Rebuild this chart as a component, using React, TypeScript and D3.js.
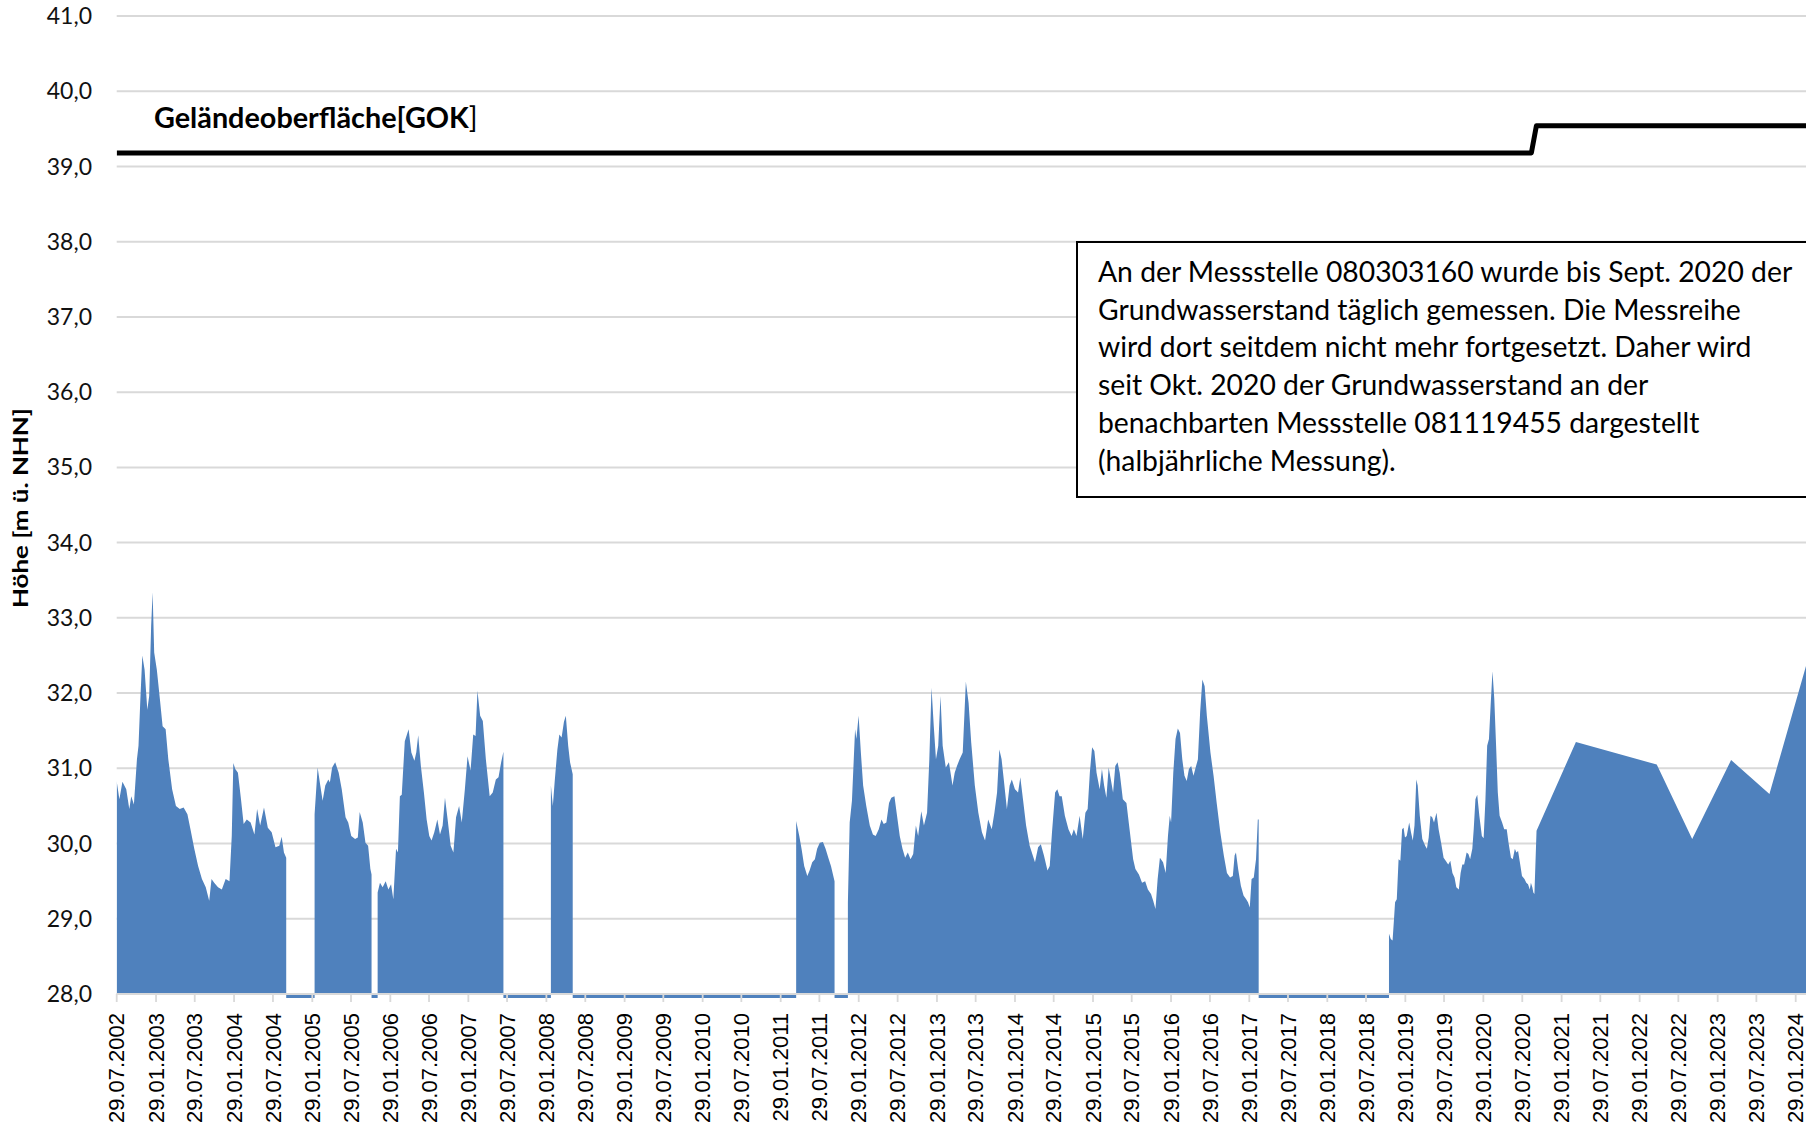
import React from 'react';
import * as d3 from 'd3';

// page size and plot box
const dim = {
  width: 1806,
  height: 1131,
  left: 116.7,
  right: 1806,
  top: 16,
  bottom: 994,
};

const blue = '#4F81BD';
const grid = '#D9D9D9';

// y axis (m ü. NHN)
const yTicks = [28, 29, 30, 31, 32, 33, 34, 35, 36, 37, 38, 39, 40, 41];

// x axis: every 6 months from 29.07.2002 to 29.01.2024
const firstTick = new Date(2002, 6, 29);
const lastTick = new Date(2024, 0, 29);
const tickDates = d3.range(0, 44).map((i) => d3.timeMonth.offset(firstTick, i * 6));

// Geländeoberfläche (decimal year, m)
const gokYears = [2002.572, 2020.69, 2020.754, 2024.5];
const gokValues = [39.18, 39.18, 39.54, 39.54];

// Messstelle 080303160, daily series (decimal year, m) – split where data is missing
const seg2002 = [
  [2002.572, 30.83], [2002.607, 30.59], [2002.646, 30.82], [2002.695, 30.72], [2002.734, 30.46],
  [2002.759, 30.63], [2002.793, 30.52], [2002.832, 31.12], [2002.852, 31.3], [2002.876, 31.92],
  [2002.901, 32.5], [2002.93, 32.31], [2002.965, 31.78], [2002.989, 31.96], [2003.014, 32.89],
  [2003.033, 33.34], [2003.053, 32.54], [2003.087, 32.31], [2003.126, 31.92], [2003.161, 31.56],
  [2003.2, 31.52], [2003.234, 31.12], [2003.283, 30.72], [2003.332, 30.5], [2003.381, 30.46],
  [2003.43, 30.48], [2003.479, 30.39], [2003.518, 30.19], [2003.567, 29.93], [2003.616, 29.7],
  [2003.665, 29.53], [2003.714, 29.42], [2003.758, 29.24], [2003.788, 29.53], [2003.822, 29.48],
  [2003.871, 29.42], [2003.92, 29.39], [2003.969, 29.53], [2004.018, 29.5], [2004.047, 30.1],
  [2004.067, 31.07], [2004.092, 30.99], [2004.126, 30.94], [2004.165, 30.59], [2004.199, 30.26],
  [2004.239, 30.32], [2004.288, 30.28], [2004.337, 30.12], [2004.371, 30.46], [2004.41, 30.24],
  [2004.459, 30.48], [2004.508, 30.21], [2004.557, 30.15], [2004.606, 29.95], [2004.655, 29.97],
  [2004.685, 30.09], [2004.714, 29.88], [2004.743, 29.81],
];

const seg2005 = [
  [2005.106, 30.39], [2005.145, 31.01], [2005.179, 30.77], [2005.209, 30.57], [2005.243, 30.77],
  [2005.282, 30.85], [2005.302, 30.81], [2005.331, 31.01], [2005.37, 31.08], [2005.415, 30.94],
  [2005.454, 30.72], [2005.503, 30.35], [2005.537, 30.28], [2005.576, 30.1], [2005.625, 30.06],
  [2005.66, 30.08], [2005.684, 30.42], [2005.723, 30.28], [2005.758, 30.01], [2005.792, 29.97],
  [2005.821, 29.66], [2005.836, 29.59],
];

const seg2006 = [
  [2005.914, 29.35], [2005.944, 29.48], [2005.978, 29.42], [2006.017, 29.5], [2006.052, 29.39],
  [2006.086, 29.46], [2006.115, 29.26], [2006.15, 29.93], [2006.174, 29.88], [2006.199, 30.63],
  [2006.223, 30.65], [2006.262, 31.36], [2006.311, 31.52], [2006.346, 31.21], [2006.385, 31.1],
  [2006.409, 31.21], [2006.434, 31.44], [2006.468, 31.03], [2006.507, 30.68], [2006.542, 30.32],
  [2006.576, 30.1], [2006.605, 30.04], [2006.64, 30.15], [2006.679, 30.32], [2006.713, 30.12],
  [2006.747, 30.24], [2006.777, 30.61], [2006.811, 30.32], [2006.85, 29.97], [2006.885, 29.88],
  [2006.919, 30.35], [2006.958, 30.5], [2006.992, 30.28], [2007.032, 30.72], [2007.066, 31.16],
  [2007.105, 30.97], [2007.139, 31.45], [2007.169, 31.43], [2007.193, 32.03], [2007.228, 31.7],
  [2007.262, 31.63], [2007.301, 31.12], [2007.35, 30.63], [2007.389, 30.68], [2007.429, 30.85],
  [2007.463, 30.88], [2007.497, 31.08], [2007.526, 31.22],
];

const seg2008 = [
  [2008.134, 30.77], [2008.159, 30.5], [2008.183, 30.83], [2008.217, 31.25], [2008.242, 31.45],
  [2008.271, 31.41], [2008.301, 31.62], [2008.325, 31.7], [2008.355, 31.3], [2008.379, 31.08],
  [2008.413, 30.92],
];

const seg2011 = [
  [2011.275, 30.3], [2011.315, 30.1], [2011.344, 29.93], [2011.378, 29.7], [2011.418, 29.57],
  [2011.447, 29.64], [2011.481, 29.75], [2011.515, 29.79], [2011.544, 29.93], [2011.578, 30.01],
  [2011.618, 30.02], [2011.652, 29.93], [2011.687, 29.81], [2011.721, 29.7], [2011.767, 29.5],
];

const seg2012 = [
  [2011.938, 29.22], [2011.961, 30.28], [2011.99, 30.57], [2012.03, 31.52], [2012.047, 31.39],
  [2012.075, 31.7], [2012.104, 31.21], [2012.133, 30.77], [2012.173, 30.5], [2012.218, 30.24],
  [2012.258, 30.12], [2012.293, 30.1], [2012.333, 30.19], [2012.367, 30.32], [2012.396, 30.26],
  [2012.43, 30.28], [2012.464, 30.54], [2012.493, 30.61], [2012.533, 30.63], [2012.561, 30.41],
  [2012.601, 30.1], [2012.636, 29.93], [2012.67, 29.81], [2012.704, 29.88], [2012.739, 29.79],
  [2012.773, 29.86], [2012.807, 30.24], [2012.836, 30.1], [2012.876, 30.43], [2012.91, 30.24],
  [2012.95, 30.41], [2012.979, 31.12], [2013.007, 32.07], [2013.036, 31.56], [2013.064, 31.12],
  [2013.093, 31.3], [2013.122, 31.96], [2013.15, 31.3], [2013.19, 31.01], [2013.23, 31.08],
  [2013.276, 30.77], [2013.304, 30.94], [2013.333, 31.03], [2013.367, 31.12], [2013.407, 31.21],
  [2013.447, 32.15], [2013.482, 31.87], [2013.516, 31.34], [2013.562, 30.77], [2013.607, 30.41],
  [2013.653, 30.15], [2013.693, 30.04], [2013.733, 30.32], [2013.779, 30.19], [2013.813, 30.41],
  [2013.847, 30.68], [2013.876, 31.25], [2013.905, 31.12], [2013.933, 30.85], [2013.973, 30.46],
  [2014.008, 30.77], [2014.036, 30.85], [2014.076, 30.72], [2014.116, 30.68], [2014.145, 30.88],
  [2014.179, 30.59], [2014.219, 30.24], [2014.265, 29.97], [2014.305, 29.84], [2014.333, 29.75],
  [2014.373, 29.95], [2014.408, 29.99], [2014.448, 29.84], [2014.493, 29.64], [2014.522, 29.7],
  [2014.551, 30.15], [2014.591, 30.68], [2014.619, 30.72], [2014.648, 30.63], [2014.676, 30.63],
  [2014.716, 30.37], [2014.762, 30.19], [2014.802, 30.1], [2014.831, 30.19], [2014.865, 30.1],
  [2014.905, 30.37], [2014.945, 30.06], [2014.979, 30.41], [2015.008, 30.46], [2015.036, 30.94],
  [2015.065, 31.28], [2015.094, 31.23], [2015.122, 30.94], [2015.162, 30.72], [2015.191, 30.99],
  [2015.219, 30.77], [2015.248, 30.61], [2015.277, 31.01], [2015.305, 30.85], [2015.334, 30.68],
  [2015.362, 31.03], [2015.391, 31.08], [2015.419, 30.94], [2015.459, 30.59], [2015.505, 30.54],
  [2015.545, 30.19], [2015.591, 29.79], [2015.62, 29.66], [2015.665, 29.59], [2015.705, 29.48],
  [2015.745, 29.5], [2015.78, 29.39], [2015.82, 29.33], [2015.848, 29.24], [2015.877, 29.13],
  [2015.905, 29.53], [2015.934, 29.81], [2015.974, 29.75], [2016.008, 29.61], [2016.037, 30.1],
  [2016.06, 30.37], [2016.077, 30.28], [2016.105, 30.94], [2016.134, 31.39], [2016.163, 31.53],
  [2016.191, 31.47], [2016.22, 31.12], [2016.248, 30.9], [2016.277, 30.83], [2016.305, 30.99],
  [2016.334, 31.03], [2016.363, 30.9], [2016.391, 31.01], [2016.42, 31.12], [2016.448, 31.74],
  [2016.477, 32.18], [2016.506, 32.09], [2016.534, 31.7], [2016.58, 31.21], [2016.62, 30.9],
  [2016.66, 30.54], [2016.706, 30.15], [2016.751, 29.84], [2016.791, 29.61], [2016.831, 29.55],
  [2016.866, 29.57], [2016.889, 29.84], [2016.906, 29.88], [2016.934, 29.66], [2016.969, 29.44],
  [2017.003, 29.31], [2017.037, 29.26], [2017.06, 29.22], [2017.083, 29.15], [2017.106, 29.53],
  [2017.134, 29.55], [2017.163, 29.79], [2017.186, 30.32], [2017.197, 30.32],
];

const seg2018 = [
  [2018.867, 28.8], [2018.89, 28.73], [2018.913, 28.71], [2018.931, 28.99], [2018.945, 29.22],
  [2018.967, 29.26], [2018.99, 29.79], [2019.013, 29.77], [2019.035, 30.19], [2019.054, 30.21],
  [2019.072, 30.08], [2019.094, 30.1], [2019.126, 30.28], [2019.149, 30.15], [2019.172, 30.04],
  [2019.194, 30.24], [2019.217, 30.85], [2019.235, 30.77], [2019.262, 30.37], [2019.294, 30.06],
  [2019.331, 29.97], [2019.353, 29.93], [2019.376, 30.08], [2019.399, 30.37], [2019.421, 30.35],
  [2019.444, 30.28], [2019.476, 30.41], [2019.503, 30.19], [2019.535, 30.01], [2019.567, 29.81],
  [2019.594, 29.77], [2019.626, 29.72], [2019.653, 29.77], [2019.68, 29.61], [2019.707, 29.55],
  [2019.73, 29.42], [2019.762, 29.39], [2019.785, 29.61], [2019.807, 29.72], [2019.83, 29.72],
  [2019.862, 29.88], [2019.885, 29.86], [2019.907, 29.79], [2019.935, 29.93], [2019.953, 30.19],
  [2019.975, 30.59], [2019.998, 30.65], [2020.025, 30.37], [2020.057, 30.1], [2020.08, 30.07],
  [2020.103, 30.59], [2020.125, 31.3], [2020.148, 31.39], [2020.171, 31.87], [2020.193, 32.29],
  [2020.216, 31.92], [2020.239, 31.3], [2020.261, 30.68], [2020.284, 30.37], [2020.316, 30.28],
  [2020.343, 30.19], [2020.375, 30.19], [2020.398, 30.01], [2020.429, 29.81], [2020.452, 29.79],
  [2020.479, 29.93], [2020.498, 29.88], [2020.52, 29.9], [2020.543, 29.75], [2020.57, 29.57],
  [2020.602, 29.53], [2020.625, 29.48], [2020.647, 29.46], [2020.67, 29.39], [2020.684, 29.48],
  [2020.702, 29.42], [2020.715, 29.35], [2020.729, 29.33],
];

// Messstelle 081119455, half-yearly readings from Oct. 2020
const halfYearly = [
  [2020.756, 30.17], [2021.26, 31.35], [2022.296, 31.05], [2022.75, 30.06],
  [2023.249, 31.11], [2023.74, 30.66], [2024.26, 32.55],
];

const noteLines = [
  'An der Messstelle 080303160 wurde bis Sept. 2020 der',
  'Grundwasserstand täglich gemessen. Die Messreihe',
  'wird dort seitdem nicht mehr fortgesetzt. Daher wird',
  'seit Okt. 2020 der Grundwasserstand an der',
  'benachbarten Messstelle 081119455 dargestellt',
  '(halbjährliche Messung).',
];

const calibri = 'Lato, "Open Sans", sans-serif';
const arial = '"Liberation Sans", Arial, sans-serif';

// decimal year -> Date
const yearToDate = (v: number) => {
  const yr = Math.floor(v);
  const a = new Date(yr, 0, 1).getTime();
  const b = new Date(yr + 1, 0, 1).getTime();
  return new Date(a + (v - yr) * (b - a));
};

const App = () => {
  const x = d3.scaleTime().domain([firstTick, lastTick]).range([dim.left, 1795.7]);
  const y = d3.scaleLinear().domain([28, 41]).range([dim.bottom, dim.top]);

  const area = d3
    .area<number[]>()
    .x((d) => x(yearToDate(d[0])))
    .y0(y(28))
    .y1((d) => y(d[1]));

  const segments = [seg2002, seg2005, seg2006, seg2008, seg2011, seg2012, seg2018.concat(halfYearly)];

  const gaps = segments.slice(1).map((s, i) => {
    const prev = segments[i];
    return [prev[prev.length - 1][0], s[0][0]];
  });

  const gokLine = d3
    .line<number>()
    .x((d, i) => x(yearToDate(gokYears[i])))
    .y((d) => y(d));

  const fmt = d3.timeFormat('%d.%m.%Y');

  return (
    <svg
      width={dim.width}
      height={dim.height}
      style={{ position: 'absolute', left: 0, top: 0, background: '#fff' }}
    >
      <defs>
        <clipPath id="plot">
          <rect x={dim.left} y={0} width={dim.right - dim.left} height={dim.bottom + 6} />
        </clipPath>
      </defs>

      {/* gridlines + y labels */}
      {yTicks.map((t) => (
        <g key={t}>
          <line x1={dim.left} x2={dim.right} y1={y(t)} y2={y(t)} stroke={grid} strokeWidth={2} />
          <text
            x={92}
            y={y(t)}
            dy="0.35em"
            textAnchor="end"
            fontFamily={calibri}
            fontSize={23}
            fill="#111"
          >
            {t.toFixed(1).replace('.', ',')}
          </text>
        </g>
      ))}

      <g clipPath="url(#plot)">
        {segments.map((s, i) => (
          <path key={i} d={area(s) || ''} fill={blue} />
        ))}
        {gaps.map(([a, b], i) => (
          <rect
            key={i}
            x={x(yearToDate(a))}
            y={dim.bottom + 1}
            width={x(yearToDate(b)) - x(yearToDate(a))}
            height={3}
            fill={blue}
          />
        ))}
      </g>

      {/* x axis */}
      <line x1={dim.left} x2={dim.right} y1={dim.bottom} y2={dim.bottom} stroke={grid} strokeWidth={2} />
      {tickDates.map((d) => (
        <g key={+d}>
          <line x1={x(d)} x2={x(d)} y1={dim.bottom} y2={dim.bottom + 8} stroke={grid} strokeWidth={1.8} />
          <text
            transform={`translate(${x(d)},1013) rotate(-90)`}
            dy="0.35em"
            textAnchor="end"
            fontFamily={arial}
            fontSize={22}
            fill="#000"
          >
            {fmt(d)}
          </text>
        </g>
      ))}

      {/* y title */}
      <text
        transform="translate(28,508) rotate(-90)"
        textAnchor="middle"
        fontFamily={calibri}
        fontWeight="bold"
        fontSize={21}
        textLength={200}
        lengthAdjust="spacingAndGlyphs"
        fill="#000"
      >
        Höhe [m ü. NHN]
      </text>

      {/* Geländeoberfläche */}
      <path
        d={gokLine(gokValues) || ''}
        fill="none"
        stroke="#000"
        strokeWidth={5}
        strokeLinejoin="round"
        clipPath="url(#plot)"
      />
      <text x={154} y={128} fontFamily={calibri} fontSize={28.8} fill="#000">
        <tspan fontWeight="bold">Geländeoberfläche[GOK</tspan>
        <tspan>]</tspan>
      </text>

      {/* note box */}
      <rect x={1077} y={242} width={760} height={255} fill="#fff" stroke="#000" strokeWidth={2} />
      {noteLines.map((l, i) => (
        <text key={i} x={1098} y={282 + i * 37.7} fontFamily={calibri} fontSize={28.3} fill="#000">
          {l}
        </text>
      ))}
    </svg>
  );
};

export default App;
